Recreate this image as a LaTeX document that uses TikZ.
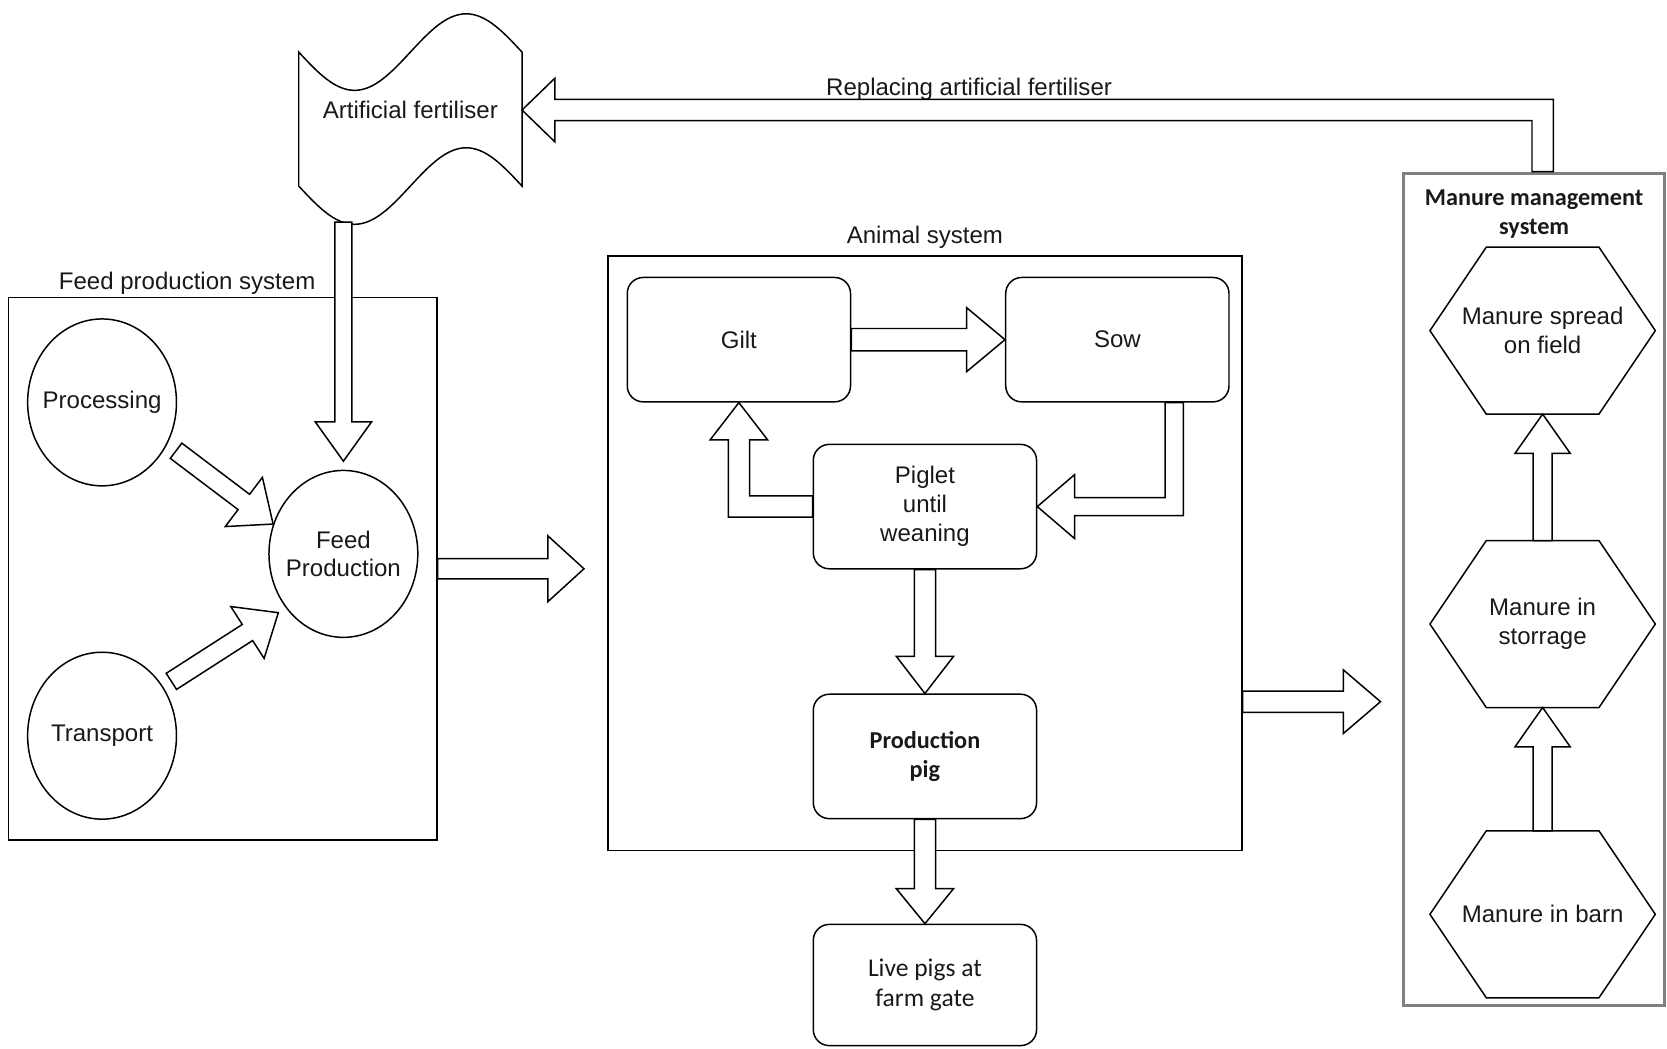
\documentclass[tikz,border=0pt]{standalone}
\usepackage{fontspec}
\setmainfont{Liberation Sans}
\newfontfamily\calibri{Carlito}
\usetikzlibrary{shapes.geometric,positioning,calc}

\tikzstyle{sysbox}=[draw, inner sep=0pt]
\tikzstyle{stage}=[draw, rounded corners=7.5pt, minimum width=105pt, minimum height=58.5pt, align=center]
\tikzstyle{blob}=[draw, ellipse, minimum width=70pt, minimum height=78.5pt, inner xsep=-4pt,
  inner ysep=0pt, align=center]
\tikzstyle{hexa}=[minimum width=106pt, minimum height=78.5pt, outer sep=0pt, align=center]
\tikzstyle{fat}=[draw, fill=white, line join=miter]
\tikzset{shaft/.store in=\shaftw, head/.store in=\headw, headlen/.store in=\headl,
  shaft=4.75pt, head=14.5pt, headlen=17.5pt}
\tikzstyle{fatto}=[fat, to path={let \p1=(\tikztostart), \p2=(\tikztotarget),
  \n1={atan2(\y2-\y1,\x2-\x1)} in
  ($(\p1)+({\n1+90}:\shaftw)$) -- ($(\p2)+({\n1+180}:\headl)+({\n1+90}:\shaftw)$)
  -- ($(\p2)+({\n1+180}:\headl)+({\n1+90}:\headw)$) -- (\p2)
  -- ($(\p2)+({\n1+180}:\headl)+({\n1-90}:\headw)$)
  -- ($(\p2)+({\n1+180}:\headl)+({\n1-90}:\shaftw)$)
  -- ($(\p1)+({\n1-90}:\shaftw)$) -- cycle}]
\tikzstyle{vhfat}=[fat, to path={let \p1=(\tikztostart), \p2=(\tikztotarget),
  \n1={sign(\x2-\x1)}, \n2={sign(\y2-\y1)} in
  ({\x1-(\n1)*\shaftw},\y1) -- ({\x1-(\n1)*\shaftw},{\y2+(\n2)*\shaftw})
  -- ({\x2-(\n1)*\headl},{\y2+(\n2)*\shaftw}) -- ({\x2-(\n1)*\headl},{\y2+(\n2)*\headw})
  -- (\p2) -- ({\x2-(\n1)*\headl},{\y2-(\n2)*\headw})
  -- ({\x2-(\n1)*\headl},{\y2-(\n2)*\shaftw}) -- ({\x1+(\n1)*\shaftw},{\y2-(\n2)*\shaftw})
  -- ({\x1+(\n1)*\shaftw},\y1) -- cycle}]
\tikzstyle{hvfat}=[fat, to path={let \p1=(\tikztostart), \p2=(\tikztotarget),
  \n1={sign(\x2-\x1)}, \n2={sign(\y2-\y1)} in
  (\x1,{\y1-(\n2)*\shaftw}) -- ({\x2+(\n1)*\shaftw},{\y1-(\n2)*\shaftw})
  -- ({\x2+(\n1)*\shaftw},{\y2-(\n2)*\headl}) -- ({\x2+(\n1)*\headw},{\y2-(\n2)*\headl})
  -- (\p2) -- ({\x2-(\n1)*\headw},{\y2-(\n2)*\headl})
  -- ({\x2-(\n1)*\shaftw},{\y2-(\n2)*\headl}) -- ({\x2-(\n1)*\shaftw},{\y1+(\n2)*\shaftw})
  -- (\x1,{\y1+(\n2)*\shaftw}) -- cycle}]

\begin{document}
\begin{tikzpicture}[x=0.5pt, y=0.5pt, on grid, line width=0.7pt, text=black!90,
    font=\fontsize{11.3pt}{13.6pt}\selectfont]
  \tikzstyle{calib}=[font=\calibri\bfseries\fontsize{11.4pt}{14pt}\selectfont]
  \useasboundingbox (0,0) rectangle (1568,986);

  \node[sysbox, minimum width=201.5pt, minimum height=255pt,
    label={[inner sep=1pt, xshift=-16.75pt]above:Feed production system}] (feedsys) at (209.5,451) {};
  \node[blob] (proc) at (96,607.5) {Processing};
  \node[blob, below=156.75pt of proc] (transport) {Transport};
  \node[blob] (feedprod) at (323,465) {Feed\\Production};

  \node (fert) at (386,883) {Artificial fertiliser};
  \draw (fert.center) ++(-105,54) sin ++(52.5,-36) cos ++(52.5,36) sin ++(52.5,36) cos ++(52.5,-36)
    -- ++(0,-126) sin ++(-52.5,36) cos ++(-52.5,-36) sin ++(-52.5,-36) cos ++(-52.5,36) -- cycle;

  \node[sysbox, minimum width=298pt, minimum height=279.5pt,
    label={[inner sep=1pt, yshift=2pt]above:Animal system}] (animsys) at (870,465.5) {};
  \node[stage] (piglet) at (870,509.5) {Piglet\\until\\weaning};
  \node[stage, above left=78.5pt and 87.5pt of piglet] (gilt) {Gilt};
  \node[stage, above right=78.5pt and 90.5pt of piglet] (sow) {Sow};
  \node[stage, calib, below=117.5pt of piglet] (prod) {Production\\pig};
  \node[stage, below=107.5pt of prod, minimum height=57pt,
    font=\calibri\fontsize{12pt}{14pt}\selectfont] (live) {Live pigs at\\farm gate};

  \node[sysbox, draw=black!50, line width=1.5pt, minimum width=123pt, minimum height=391.5pt,
    label={[calib, anchor=north, align=center, inner sep=0pt, yshift=-8pt]north:Manure management\\system}]
    (mansys) at (1443,431.5) {};
  \node[hexa] (spread) at (1451,675) {Manure spread\\on field};
  \node[hexa, below=138pt of spread] (storrage) {Manure in\\storrage};
  \node[hexa, below=136.5pt of storrage] (barn) {Manure in barn};
  \foreach \h in {spread,storrage,barn}
    \draw (\h.west) -- ([xshift=26.5pt]\h.north west) -- ([xshift=-26.5pt]\h.north east)
      -- (\h.east) -- ([xshift=-26.5pt]\h.south east) -- ([xshift=26.5pt]\h.south west) -- cycle;

  \node[anchor=base] (repl) at (911.5,896) {Replacing artificial fertiliser};

  \coordinate (fertbot) at ($(fert)+(-63,-106)$);
  \coordinate (fertin) at ($(fert)+(105,-0.5)$);
  \coordinate (feedin) at ([yshift=4pt]feedprod.north);
  \coordinate (procout) at ($(proc)+(69.6,-45.5)$);
  \coordinate (transout) at ($(transport)+(65.2,51.1)$);
  \coordinate (transin) at ($(feedprod)+(-61.2,-55.3)$);
  \coordinate (animin) at ([xshift=-11pt]animsys.west |- feedsys.east);
  \coordinate (sowout) at ([xshift=26.75pt]sow.south);
  \coordinate (animout) at ([yshift=-69.75pt]animsys.east);
  \coordinate (manin) at ([xshift=-10pt]mansys.west |- animout);
  \coordinate (manout) at (spread.north |- mansys.north);

  \draw[fatto, shaft=4pt, head=13.25pt, headlen=18.5pt] (fertbot) to (feedin);
  \draw[fatto, shaft=4.5pt, head=14.5pt, headlen=17.25pt] (procout) to (feedprod.157);
  \draw[fatto, shaft=4.5pt, head=14.5pt, headlen=17.25pt] (transout) to (transin);
  \draw[fatto, head=15.5pt, headlen=17pt] (feedsys.east) to (animin);

  \draw[fatto, shaft=5.25pt, head=15pt, headlen=18pt] (gilt.east) to (sow.west);
  \draw[vhfat, shaft=4.25pt, head=15pt] (sowout) to (piglet.east);
  \draw[hvfat, shaft=5pt, head=13.5pt] (piglet.west) to (gilt.south);
  \draw[fatto, shaft=5pt, head=13.5pt] (piglet.south) to (prod.north);
  \draw[fatto, shaft=5pt, head=13.5pt, headlen=16.5pt] (prod.south) to (live.north);
  \draw[fatto, shaft=5pt, head=15pt] (animout) to (manin);

  \draw[fatto, shaft=4.5pt, head=13pt, headlen=18.5pt] (barn.north) to (storrage.south);
  \draw[fatto, shaft=4.5pt, head=13pt, headlen=18.5pt] (storrage.north) to (spread.south);
  \draw[vhfat, shaft=5pt, head=15pt, headlen=15.5pt] (manout) to (fertin);
\end{tikzpicture}
\end{document}
